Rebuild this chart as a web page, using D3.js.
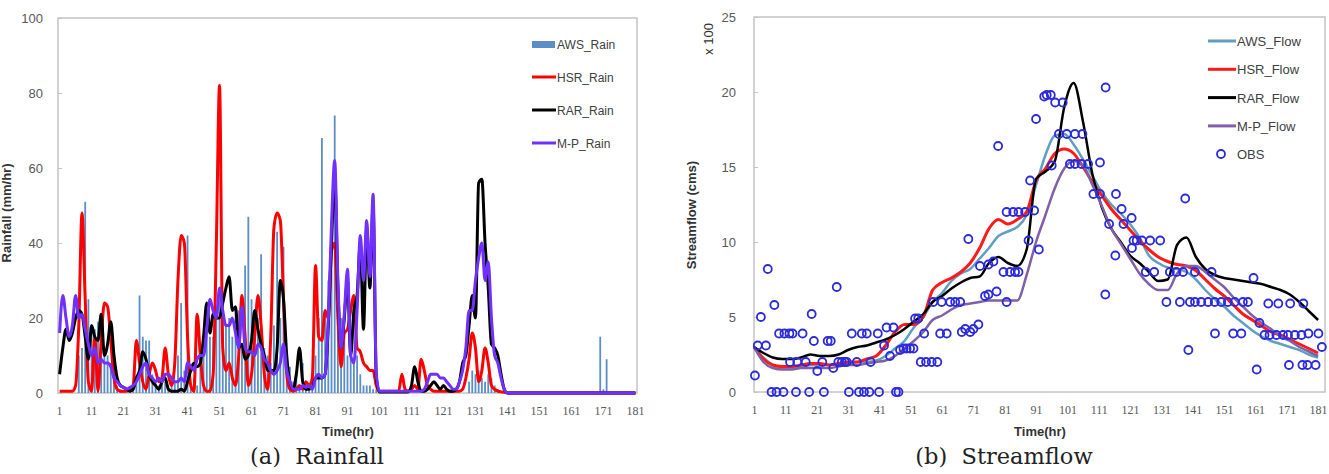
<!DOCTYPE html>
<html>
<head>
<meta charset="utf-8">
<script src="https://cdnjs.cloudflare.com/ajax/libs/d3/7.8.5/d3.min.js"></script>
<style>
body { margin: 0; background: #fff; }
svg { display: block; }
.tick text { fill: #595959; }
</style>
</head>
<body>
<div id="chart"></div>
<script>
// ---- data: (a) rainfall, hourly, hours 1..181 ----
var rainHours = d3.range(1, 182);
var rainTicks = [0, 20, 40, 60, 80, 100];
var timeLabels = [1, 11, 21, 31, 41, 51, 61, 71, 81, 91, 101, 111, 121, 131, 141, 151, 161, 171, 181];

var awsRain = [
  0,0,0,0,0,0,10,12,51,25,
  18,17,19,16,12,10,8,3,2,1,
  0.5,0,0.5,1,3,26,15,14,14,5,
  3,2,4,3,2,4,3,10,24,6,
  42,3,4,2,8,10,22,15,15,20,
  25,22,18,20,15,22,22,12,34,47,
  25,15,20,37,12,10,8,18,43,20,
  39,10,7,3,5,2,8,3,2,1,
  10,20,68,22,30,40,74,30,20,15,
  10,12,8,10,5,2,2,2,1,1,
  0,0,0,0,0,0,0,0,0,0,
  0,0,0,0,0,0,0,0,0,0,
  0,0,0,0,0,0,0,0,3,6,
  5,6,4,3,5,4,2,1,0,0,
  0,0,0,0,0,0,0,0,0,0,
  0,0,0,0,0,0,0,0,0,0,
  0,0,0,0,0,0,0,0,0,15,
  1,9,0,0,0,0,0,0,0,0,
  0
];
var hsrRain = [
  0.5,0.5,0.5,0.5,0.5,2,18,48,25,3,
  0.5,15,0.5,14,24,23,14,4,1,0.5,
  0.5,0.5,1,2,14,8,3,1,5,8,
  6,3,4,12,5,2,8,30,42,40,
  15,2,0.5,21,10,2,0.5,0.5,5,40,
  82,12,6,8,4,2,10,26,15,2,
  5,15,26,18,5,1,15,44,48,46,
  25,5,1,0.5,1,2,1,3,2,4,
  34,15,14,22,20,38,40,20,7,16,
  17,22,26,12,11,8,7,6,6,2,
  0.5,0.5,0.5,0.5,0.5,0.5,0.5,5,1,0.5,
  1,2,1,9,6,2,1,0.5,0.5,0.5,
  0.5,0.5,0.5,0.5,0.5,0.5,1,4,9,16,
  12,3,6,12,8,2,1,0.5,0.3,0.2,
  0,0,0,0,0,0,0,0,0,0,
  0,0,0,0,0,0,0,0,0,0,
  0,0,0,0,0,0,0,0,0,0,
  0,0,0,0,0,0,0,0,0,0,
  0
];
var rarRain = [
  5,12,17,14,16,20,22,21,15,9,
  18,15,14,21,10,13,19,10,4,2,
  1.5,1,0.5,1,4,6,11,9,5,3,
  2,1,3,4,1,0.5,0.5,0.5,1,0.5,
  3,6,8,7,8,15,24,16,21,20,
  20,24,28,31,22,23,12,13,9,10,
  14,22,17,13,10,6,6,6,12,30,
  25,10,3,1,5,12,3,1,1,1.5,
  4,4,4,5,18,40,58,28,12,20,
  30,10,22,26,40,17,44,28,50,4,
  0.3,0.3,0.3,0.3,0.3,0.3,0.3,0.3,0.3,0.3,
  2,7,3,0.5,0.5,1,2,3,2,1,
  2,1,0.5,0.5,1,3,8,10,18,26,
  20,56,57,40,28,13,12,10,5,1,
  0,0,0,0,0,0,0,0,0,0,
  0,0,0,0,0,0,0,0,0,0,
  0,0,0,0,0,0,0,0,0,0,
  0,0,0,0,0,0,0,0,0,0,
  0
];
var mpRain = [
  16,26,20,15,18,26,20,21,17,13,
  10,12,8,9,8,8,7,4,3,2,
  1.5,1,1.5,2,3,5,7,8,5,4,
  3,4,3,5,5,4,3,3,4,3,
  8,7,6,9,10,10,17,25,22,20,
  28,22,18,18,20,16,12,23,12,11,
  11,10,13,12,9,8,6,5,6,8,
  13,6,3,1,1,1,2,1.5,2,1,
  4,5,4,5,20,45,62,30,12,21,
  33,10,8,22,42,30,46,31,53,5,
  0.5,0.5,0.5,0.5,0.5,0.5,0.5,0.5,0.5,0.5,
  0.5,0.5,0.5,0.5,1,3,5,5,5,4,
  4,3,2,1,1,3,6,12,22,22,
  30,36,40,30,35,20,10,8,4,1,
  0,0,0,0,0,0,0,0,0,0,
  0,0,0,0,0,0,0,0,0,0,
  0,0,0,0,0,0,0,0,0,0,
  0,0,0,0,0,0,0,0,0,0,
  0
];

// ---- data: (b) streamflow (x 100 cms), every 3 hours ----
var flowHours = d3.range(1, 182, 3);
var flowTicks = [0, 5, 10, 15, 20, 25];
var awsFlow = [
  3.0,2.3,1.8,1.6,1.6,1.7,1.8,1.8,1.8,1.9,
  1.9,2.0,2.0,2.1,2.4,2.9,3.4,4.3,5.0,6.0,
  6.6,7.4,7.9,8.2,8.9,9.6,10.4,10.7,11.0,11.8,
  13.8,15.8,17.1,17.2,16.5,15.5,14.4,13.3,12.5,11.9,
  11.2,10.3,9.1,8.6,8.3,8.2,8.0,7.5,6.8,6.2,
  5.7,5.1,4.6,4.1,3.7,3.4,3.2,3.0,2.8,2.5,
  2.3
];
var hsrFlow = [
  3.0,2.2,1.8,1.7,1.7,1.8,1.9,1.9,1.8,1.9,
  2.0,2.0,2.2,2.4,3.1,4.0,4.5,4.5,5.0,6.8,
  7.3,7.6,8.0,8.6,9.6,10.9,11.5,11.2,11.5,12.0,
  14.1,14.9,15.9,16.2,15.9,15.0,14.0,13.1,12.2,11.5,
  10.8,10.1,9.5,9.0,8.7,8.5,8.4,8.1,7.5,6.9,
  6.4,5.8,5.2,4.8,4.4,4.0,3.8,3.5,3.2,2.9,
  2.6
];
var rarFlow = [
  3.0,2.6,2.3,2.2,2.2,2.3,2.5,2.4,2.4,2.5,
  2.8,3.0,3.1,3.3,3.5,3.8,4.2,4.7,5.2,6.0,
  6.4,6.9,7.3,7.6,7.7,8.6,9.0,8.6,8.4,9.5,
  14.2,14.7,15.4,19.0,20.6,18.0,14.5,12.3,10.9,10.0,
  9.1,8.6,8.0,7.4,7.5,9.8,10.3,9.0,8.2,7.8,
  7.6,7.5,7.4,7.3,7.2,7.0,6.8,6.5,6.0,5.4,
  4.8
];
var mpFlow = [
  3.0,2.0,1.6,1.5,1.5,1.6,1.6,1.6,1.6,1.7,
  1.8,1.8,1.9,2.0,2.1,2.4,2.9,3.4,4.0,4.8,
  5.1,5.5,5.8,5.9,6.0,6.1,6.1,6.1,6.1,7.8,
  10.0,11.8,13.6,14.9,15.4,15.1,13.8,12.4,10.9,9.9,
  8.9,7.9,7.2,6.8,6.8,7.9,8.4,8.4,8.0,7.5,
  7.0,6.3,5.7,5.1,4.6,4.2,3.7,3.4,3.0,2.7,
  2.4
];
var obsTime = [
  1.3,2.2,3.2,4.8,5.4,6.6,7.5,8.2,9.0,10.4,10.7,12.3,12.5,13.3,14.4,14.8,16.5,17.5,18.6,19.4,
  20.1,21.2,22.8,23.3,24.5,25.5,26.3,27.4,27.9,29.0,30.0,30.6,31.3,32.2,33.8,34.5,35.4,36.1,37.0,37.8,
  38.2,40.5,40.9,42.5,43.3,44.4,45.5,46.3,47.1,47.6,48.7,49.7,50.8,51.9,52.4,53.4,55.3,54.2,55.9,57.7,
  59.5,60.4,62.5,58.2,60.9,63.6,65.2,66.8,67.3,68.4,69.4,70.0,71.0,72.6,73.1,74.7,75.8,75.8,77.4,78.4,
  78.9,80.6,81.6,81.6,82.7,83.7,84.3,85.4,85.4,87.5,88.6,89.1,90.4,91.0,91.9,93.6,94.4,95.7,96.0,97.1,
  98.3,99.5,100.8,101.8,103.4,103.4,105.5,105.8,107.6,109.3,111.4,111.4,113.1,113.2,114.3,116.3,116.5,118.3,118.9,121.5,
  121.6,122.1,123.1,124.8,126.0,127.4,128.7,130.6,132.6,133.7,135.8,136.9,137.9,138.6,139.6,140.1,141.7,141.7,143.7,145.9,
  147.0,148.0,148.1,150.1,152.2,153.9,154.4,156.5,157.0,158.6,160.4,161.4,162.3,163.9,165.1,165.5,167.7,168.3,169.8,171.4,
  171.7,172.1,173.6,175.7,176.0,176.3,177.6,177.9,180.2,181.1,182.2
];
var obsFlow = [
  1.1,3.1,5.0,3.1,8.2,0,5.8,0,3.9,0,3.9,3.9,2.0,3.9,0,2.0,3.9,2.0,0,5.2,
  3.4,1.4,2.0,0,3.4,3.4,1.6,7.0,2.0,2.0,2.0,2.0,0,3.9,2.0,0,3.9,0,3.9,0,
  2.0,3.9,0,3.1,4.3,2.4,4.3,0,0,2.8,2.9,2.9,2.9,2.9,4.9,4.9,3.9,2.0,2.0,2.0,
  2.0,3.9,3.9,6.0,6.0,6.0,6.0,6.0,4.0,4.2,10.2,4.0,4.2,4.5,8.4,6.4,6.5,8.5,8.7,6.7,
  16.4,8.0,6.0,12.0,8.0,12.0,8.0,8.0,12.0,12.0,10.1,14.1,12.1,18.2,9.5,19.7,19.8,19.8,15.1,19.3,
  17.2,19.3,17.2,15.2,17.2,15.2,15.2,17.2,15.2,13.2,13.2,15.3,6.5,20.3,11.2,9.1,13.2,12.2,11.2,11.6,
  9.6,10.1,10.1,10.1,8.0,10.1,8.0,10.1,6.0,8.0,8.0,6.0,8.0,12.9,2.8,6.0,8.0,6.0,6.0,6.0,
  8.0,6.0,3.9,6.0,6.0,3.9,6.0,3.9,6.0,6.0,7.6,1.5,4.6,3.8,5.9,3.8,3.8,5.9,3.8,3.8,
  1.8,5.9,3.8,3.8,1.8,5.9,1.8,3.9,1.8,3.9,3.0
];

var svg = d3.select('#chart').append('svg')
            .attr('width', 1329)
            .attr('height', 474);

var sansFont = '"Liberation Sans", Arial, sans-serif';
var serifFont = '"Liberation Serif", "Times New Roman", serif';

// ================= (a) Rainfall =================
var rx = d3.scaleBand().domain(rainHours).range([58, 637]);
var ry = d3.scaleLinear().domain([0, 100]).range([393, 18]);
var bw = rx.bandwidth();

var gA = svg.append('g');

gA.append('rect')
    .attr('x', 58).attr('y', 18)
    .attr('width', 579).attr('height', 375)
    .attr('fill', 'none')
    .attr('stroke', '#c4c4c4')
    .attr('stroke-width', 1.5);

gA.append('g')
    .attr('transform', 'translate(58,0)')
    .call(d3.axisLeft(ry).tickValues(rainTicks).tickSize(-4).tickPadding(15))
    .call(function(g){ g.select('.domain').remove(); })
    .call(function(g){
        g.selectAll('line').attr('stroke', '#c4c4c4');
        g.selectAll('text').attr('font-family', sansFont).attr('font-size', 13);
    });

gA.append('g')
    .attr('transform', 'translate(0,393)')
    .call(d3.axisBottom(rx).tickValues(timeLabels).tickSize(0).tickPadding(13))
    .call(function(g){ g.select('.domain').remove(); })
    .call(function(g){
        g.selectAll('text').attr('font-family', serifFont).attr('font-size', 12);
    });

gA.selectAll('rect.bar')
    .data(awsRain)
    .enter()
    .append('rect')
    .attr('class', 'bar')
    .attr('x', function(d, i){ return rx(rainHours[i]) + bw/2 - 0.9; })
    .attr('width', 1.8)
    .attr('y', function(d){ return ry(d); })
    .attr('height', function(d){ return 393 - ry(d); })
    .attr('fill', '#5b8ec6');

var rainLine = d3.line()
    .x(function(d, i){ return rx(rainHours[i]) + bw/2; })
    .y(function(d){ return ry(d); })
    .curve(d3.curveMonotoneX);

var rainSeries = [
    {name: 'HSR_Rain', values: hsrRain, color: '#ff0000'},
    {name: 'RAR_Rain', values: rarRain, color: '#000000'},
    {name: 'M-P_Rain', values: mpRain,  color: '#7030ff'}
];

rainSeries.forEach(function(s){
    gA.append('path')
        .attr('d', rainLine(s.values))
        .attr('fill', 'none')
        .attr('stroke', s.color)
        .attr('stroke-width', 3)
        .attr('stroke-linejoin', 'round');
});

// legend (a)
var legA = gA.append('g').attr('font-family', sansFont).attr('font-size', 12).attr('fill', '#404040');
legA.append('rect').attr('x', 532).attr('y', 41).attr('width', 23).attr('height', 7).attr('fill', '#5b8ec6');
legA.append('text').attr('x', 557).attr('y', 48.5).text('AWS_Rain');
rainSeries.forEach(function(s, i){
    var y = 77 + i*33;
    legA.append('line').attr('x1', 532).attr('x2', 556).attr('y1', y).attr('y2', y)
        .attr('stroke', s.color).attr('stroke-width', 3);
    legA.append('text').attr('x', 557).attr('y', y + 4.5).text(s.name);
});

gA.append('text')
    .attr('transform', 'translate(11,213) rotate(-90)')
    .attr('text-anchor', 'middle')
    .attr('font-family', sansFont)
    .attr('font-weight', 'bold')
    .attr('font-size', 13)
    .attr('fill', '#333')
    .text('Rainfall (mm/hr)');

gA.append('text')
    .attr('x', 348).attr('y', 436)
    .attr('text-anchor', 'middle')
    .attr('font-family', sansFont)
    .attr('font-weight', 'bold')
    .attr('font-size', 13)
    .attr('fill', '#333')
    .text('Time(hr)');

gA.append('text')
    .attr('x', 317).attr('y', 464)
    .attr('text-anchor', 'middle')
    .attr('font-family', '"DejaVu Serif", serif')
    .attr('font-size', 22.5)
    .attr('fill', '#222')
    .attr('xml:space', 'preserve')
    .style('white-space', 'pre')
    .text('(a)  Rainfall');

// ================= (b) Streamflow =================
var fx = d3.scaleLinear().domain([1, 183.2]).range([754, 1325]);
var fy = d3.scaleLinear().domain([0, 25]).range([392, 17]);

var gB = svg.append('g');

gB.append('rect')
    .attr('x', 754).attr('y', 17)
    .attr('width', 571).attr('height', 375)
    .attr('fill', 'none')
    .attr('stroke', '#c4c4c4')
    .attr('stroke-width', 1.5);

gB.append('g')
    .attr('transform', 'translate(754,0)')
    .call(d3.axisLeft(fy).tickValues(flowTicks).tickSize(-4).tickPadding(18))
    .call(function(g){ g.select('.domain').remove(); })
    .call(function(g){
        g.selectAll('line').attr('stroke', '#c4c4c4');
        g.selectAll('text').attr('font-family', sansFont).attr('font-size', 13);
    });

gB.append('g')
    .attr('transform', 'translate(0,392)')
    .call(d3.axisBottom(fx).tickValues(timeLabels).tickSize(0).tickPadding(13))
    .call(function(g){ g.select('.domain').remove(); })
    .call(function(g){
        g.selectAll('text').attr('font-family', serifFont).attr('font-size', 12);
    });

var flowLine = d3.line()
    .x(function(d, i){ return fx(flowHours[i]); })
    .y(function(d){ return fy(d); })
    .curve(d3.curveMonotoneX);

var flowSeries = [
    {name: 'AWS_Flow', values: awsFlow, color: '#5f9fc2'},
    {name: 'HSR_Flow', values: hsrFlow, color: '#ff1a1a'},
    {name: 'RAR_Flow', values: rarFlow, color: '#000000'},
    {name: 'M-P_Flow', values: mpFlow,  color: '#8060a8'}
];

flowSeries.forEach(function(s){
    gB.append('path')
        .attr('d', flowLine(s.values))
        .attr('fill', 'none')
        .attr('stroke', s.color)
        .attr('stroke-width', s.name === 'HSR_Flow' ? 3 : 2.5)
        .attr('stroke-linejoin', 'round');
});

gB.selectAll('circle.obs')
    .data(obsFlow)
    .enter()
    .append('circle')
    .attr('class', 'obs')
    .attr('cx', function(d, i){ return fx(obsTime[i]); })
    .attr('cy', function(d){ return fy(d); })
    .attr('r', 4)
    .attr('fill', 'none')
    .attr('stroke', '#2b2bdc')
    .attr('stroke-width', 1.8);

// legend (b)
var legB = gB.append('g').attr('font-family', sansFont).attr('font-size', 13).attr('fill', '#404040');
flowSeries.forEach(function(s, i){
    var y = 41 + i*28.3;
    legB.append('line').attr('x1', 1208).attr('x2', 1236).attr('y1', y).attr('y2', y)
        .attr('stroke', s.color).attr('stroke-width', 3);
    legB.append('text').attr('x', 1237).attr('y', y + 5).text(s.name);
});
legB.append('circle').attr('cx', 1221).attr('cy', 154).attr('r', 4)
    .attr('fill', 'none').attr('stroke', '#2b2bdc').attr('stroke-width', 1.8);
legB.append('text').attr('x', 1237).attr('y', 159).text('OBS');

gB.append('text')
    .attr('transform', 'translate(696,215) rotate(-90)')
    .attr('text-anchor', 'middle')
    .attr('font-family', sansFont)
    .attr('font-weight', 'bold')
    .attr('font-size', 13)
    .attr('fill', '#333')
    .text('Streamflow (cms)');

gB.append('text')
    .attr('transform', 'translate(713,39) rotate(-90)')
    .attr('text-anchor', 'middle')
    .attr('font-family', sansFont)
    .attr('font-size', 13)
    .attr('fill', '#333')
    .text('x 100');

gB.append('text')
    .attr('x', 1040).attr('y', 436)
    .attr('text-anchor', 'middle')
    .attr('font-family', sansFont)
    .attr('font-weight', 'bold')
    .attr('font-size', 13)
    .attr('fill', '#333')
    .text('Time(hr)');

gB.append('text')
    .attr('x', 1004).attr('y', 464)
    .attr('text-anchor', 'middle')
    .attr('font-family', '"DejaVu Serif", serif')
    .attr('font-size', 22.5)
    .attr('fill', '#222')
    .style('white-space', 'pre')
    .text('(b)  Streamflow');
</script>
</body>
</html>
